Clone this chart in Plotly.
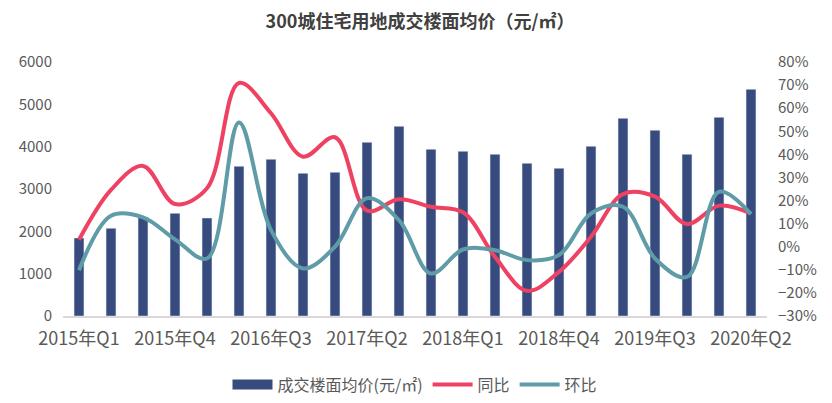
import plotly.graph_objects as go

quarters = [
    "2015年Q1", "2015年Q2", "2015年Q3", "2015年Q4",
    "2016年Q1", "2016年Q2", "2016年Q3", "2016年Q4",
    "2017年Q1", "2017年Q2", "2017年Q3", "2017年Q4",
    "2018年Q1", "2018年Q2", "2018年Q3", "2018年Q4",
    "2019年Q1", "2019年Q2", "2019年Q3", "2019年Q4",
    "2020年Q1", "2020年Q2",
]
price = [1843, 2072, 2339, 2426, 2315, 3537, 3702, 3371, 3395, 4103, 4481,
         3938, 3891, 3820, 3608, 3490, 4009, 4670, 4387, 3820, 4693, 5355]
yoy = [0.03, 0.246, 0.35, 0.185, 0.253, 0.709, 0.578, 0.39, 0.474, 0.156, 0.206,
       0.173, 0.149, -0.044, -0.191, -0.109, 0.043, 0.228, 0.217, 0.098, 0.178, 0.144]
qoq = [-0.102, 0.134, 0.127, 0.032, -0.051, 0.538, 0.072, -0.094, 0.0, 0.21, 0.115,
       -0.116, -0.012, -0.015, -0.058, -0.036, 0.144, 0.173, -0.051, -0.131, 0.238, 0.141]
tick_labels = quarters[::3]

FONT = "Noto Sans CJK SC, Noto Sans, sans-serif"
GREY = "#595959"
NAVY = "#374B7E"

W, H = 824, 395  # page body has an 8px margin

fig = go.Figure()
fig.add_trace(go.Bar(x=quarters, y=price, name="成交楼面均价(元/㎡)",
                     marker=dict(color=NAVY), yaxis="y", showlegend=False))
# legend entry for the bars, drawn as a wide block like the reference
fig.add_trace(go.Scatter(x=[None], y=[None], name="成交楼面均价(元/㎡)", mode="lines",
                         line=dict(color=NAVY, width=11), yaxis="y"))
fig.add_trace(go.Scatter(x=quarters, y=yoy, name="同比", mode="lines",
                         line=dict(color="#EF4162", width=4, shape="spline", smoothing=1.0),
                         yaxis="y2"))
fig.add_trace(go.Scatter(x=quarters, y=qoq, name="环比", mode="lines",
                         line=dict(color="#5F9CA7", width=4, shape="spline", smoothing=1.0),
                         yaxis="y2"))

fig.update_layout(
    width=W, height=H,
    margin=dict(l=55, r=65, t=54, b=87, autoexpand=False),
    paper_bgcolor="white", plot_bgcolor="white",
    font=dict(family=FONT, color=GREY, size=15),
    title=dict(text="<b>300城住宅用地成交楼面均价（元/㎡）</b>", x=0.5, xanchor="center",
               y=1 - 14 / H, yanchor="middle",
               font=dict(size=18, color="#404040", family=FONT)),
    bargap=0.69,
    showlegend=True,
    legend=dict(orientation="h", x=0.5, xanchor="center", y=-0.27, yanchor="middle",
                font=dict(size=16, color=GREY, family=FONT), itemwidth=40,
                traceorder="normal"),
    xaxis=dict(type="category", tickmode="array", tickvals=tick_labels, ticktext=tick_labels,
               showline=True, linecolor="#D9D9D9", linewidth=2, ticks="",
               showgrid=False, tickfont=dict(size=18, color=GREY), ticklabelstandoff=5),
    yaxis=dict(range=[0, 6000], dtick=1000, showgrid=False, zeroline=False,
               showline=False, ticks="", tickfont=dict(size=15, color=GREY),
               ticklabelstandoff=10),
    yaxis2=dict(range=[-0.3, 0.8], dtick=0.1, tickformat=".0%", overlaying="y", side="right",
                showgrid=False, zeroline=False, showline=False, ticks="",
                tickfont=dict(size=15, color=GREY), ticklabelstandoff=10),
)

fig.write_html("out.html")
